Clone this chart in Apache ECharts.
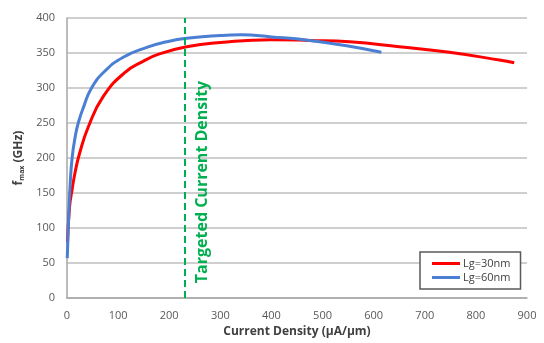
<!DOCTYPE html>
<html>
<head>
<meta charset="utf-8">
<script src="https://cdn.jsdelivr.net/npm/echarts@6/dist/echarts.min.js"></script>
<style>
  html, body { margin: 0; padding: 0; background: #fff; }
  #container { width: 544px; height: 343px; }
</style>
</head>
<body>
<div id="container"></div>
<script>
// Lg=30nm (red)
let lg30X = [1, 5, 10, 16, 24, 42, 71, 113, 149, 182, 234, 300, 400, 475, 553, 650, 748, 846, 875];
let lg30Y = [80, 130, 155, 180, 205, 245, 288, 322, 338, 349, 359, 365, 369, 368, 366, 359, 351, 340, 336];
// Lg=60nm (blue)
let lg60X = [0.5, 3, 6, 10, 16, 22, 32, 48, 74, 110, 156, 195, 234, 300, 340, 400, 475, 550, 615];
let lg60Y = [57, 110, 160, 200, 230, 250, 272, 300, 324, 344, 358, 366, 371, 375, 376, 373, 368, 360, 351];
let targetDensity = 230;
let xTicks = { min: 0, max: 900, interval: 100 };
let yTicks = { min: 0, max: 400, interval: 50 };

let dom = document.getElementById('container');
let myChart = echarts.init(dom);
let font = 'Open Sans';

function pairs(xs, ys) {
    return xs.map(function (x, i) { return [x, ys[i]]; });
}

let option = {
    animation: false,
    textStyle: { fontFamily: font },
    grid: { left: 67, right: 17, top: 18, bottom: 45 },
    legend: {
        orient: 'vertical',
        left: 420,
        top: 252,
        padding: [6, 10, 6, 12],
        itemGap: 3,
        itemWidth: 28,
        itemHeight: 3,
        icon: 'rect',
        borderColor: '#595959',
        borderWidth: 1.5,
        backgroundColor: '#fff',
        textStyle: { fontFamily: font, fontSize: 11, color: '#404040', padding: [0, 0, 0, -2] },
        data: ['Lg=30nm', 'Lg=60nm']
    },
    xAxis: {
        type: 'value',
        min: xTicks.min,
        max: xTicks.max,
        interval: xTicks.interval,
        name: 'Current Density (\u00b5A/\u00b5m)',
        nameLocation: 'middle',
        nameGap: 27,
        nameTextStyle: { fontFamily: font, fontSize: 12, fontWeight: 'bold', color: '#404040' },
        axisLine: { lineStyle: { color: '#a6a6a6', width: 1.5 } },
        axisTick: { show: false },
        splitLine: { show: false },
        axisLabel: { fontFamily: font, fontSize: 11, color: '#595959', margin: 12 }
    },
    yAxis: {
        type: 'value',
        min: yTicks.min,
        max: yTicks.max,
        interval: yTicks.interval,
        name: '{f|f}{sub|max}{f| (GHz)}',
        nameLocation: 'middle',
        nameGap: 40,
        nameRotate: 90,
        nameTextStyle: {
            rich: {
                f: { fontFamily: font, fontSize: 12, fontWeight: 'bold', color: '#404040' },
                sub: { fontFamily: font, fontSize: 7, fontWeight: 'bold', color: '#404040', padding: [6, 0, 0, 0] }
            }
        },
        axisLine: { show: true, lineStyle: { color: '#a6a6a6', width: 1.5 } },
        axisTick: { show: false },
        splitLine: { lineStyle: { color: '#bfbfbf', width: 1.5 } },
        axisLabel: { fontFamily: font, fontSize: 11, color: '#595959', margin: 12 }
    },
    series: [
        {
            name: 'Lg=30nm',
            type: 'line',
            smooth: 0.5,
            symbol: 'none',
            color: '#ff0000',
            lineStyle: { width: 3, color: '#ff0000' },
            data: pairs(lg30X, lg30Y),
            z: 2,
            markLine: {
                silent: true,
                symbol: 'none',
                label: { show: false },
                lineStyle: { color: '#00b050', width: 2, type: [7, 4] },
                data: [{ xAxis: targetDensity }]
            }
        },
        {
            name: 'Lg=60nm',
            type: 'line',
            smooth: 0.5,
            symbol: 'none',
            color: '#4a7fd4',
            lineStyle: { width: 3, color: '#4a7fd4' },
            data: pairs(lg60X, lg60Y),
            z: 3
        }
    ]
};
myChart.setOption(option);

// rotated annotation beside the dashed line
let p = myChart.convertToPixel({ gridIndex: 0 }, [targetDensity, 200]);
myChart.setOption({
    graphic: [{
        type: 'text',
        x: p[0] + 18,
        y: 182,
        rotation: Math.PI / 2,
        style: {
            text: 'Targeted Current Density',
            font: 'bold 16px "Open Sans"',
            fill: '#00b050',
            align: 'center',
            verticalAlign: 'middle'
        }
    }]
});
</script>
</body>
</html>
